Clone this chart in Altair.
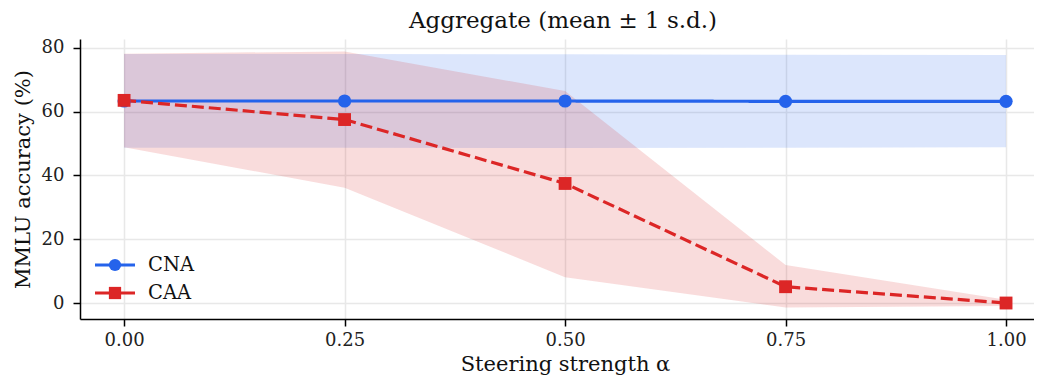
import altair as alt
import pandas as pd

alpha = [0.0, 0.25, 0.5, 0.75, 1.0]
series_names = ["CNA", "CAA"]
cna_mean = [63.3, 63.3, 63.3, 63.2, 63.2]
cna_lo = [48.7, 48.7, 48.6, 48.7, 48.8]
cna_hi = [78.0, 78.0, 77.9, 77.8, 77.7]
caa_mean = [63.5, 57.5, 37.5, 5.2, 0.1]
caa_lo = [48.8, 36.2, 8.2, -1.3, -0.8]
caa_hi = [78.1, 78.8, 66.4, 12.0, 1.1]
x_ticks = [0.0, 0.25, 0.5, 0.75, 1.0]
y_ticks = [0, 20, 40, 60, 80]

colors = ["#2563eb", "#dc2626"]
FONT = "DejaVu Serif"

df = pd.concat([
    pd.DataFrame({"series": "CNA", "alpha": alpha, "mean": cna_mean, "lo": cna_lo, "hi": cna_hi}),
    pd.DataFrame({"series": "CAA", "alpha": alpha, "mean": caa_mean, "lo": caa_lo, "hi": caa_hi}),
], ignore_index=True)

xs = alt.Scale(domain=[-0.05, 1.0317], nice=False, zero=False)
ys = alt.Scale(domain=[-4.9, 82.7], nice=False, zero=False)
cs = alt.Scale(domain=series_names, range=colors)

X = alt.X("alpha:Q", scale=xs, title="Steering strength α",
          axis=alt.Axis(values=x_ticks, format=".2f", titleX=485))
Y = alt.Y("mean:Q", scale=ys, title="MMLU accuracy (%)",
          axis=alt.Axis(values=y_ticks))

base = alt.Chart(df)

bands = base.mark_area(opacity=0.16).encode(
    x=X,
    y=alt.Y("lo:Q", scale=ys, stack=None, title="MMLU accuracy (%)", axis=alt.Axis(values=y_ticks)),
    y2="hi:Q",
    color=alt.Color("series:N", scale=cs, legend=None),
    detail="series:N",
)

lines = base.mark_line(strokeWidth=3.2).encode(
    x=X, y=Y,
    color=alt.Color("series:N", scale=cs, legend=None),
    strokeDash=alt.StrokeDash("series:N", scale=alt.Scale(domain=series_names, range=[[1, 0], [12, 5]]), legend=None),
)

points = base.mark_point(filled=True, opacity=1).encode(
    x=X, y=Y,
    color=alt.Color("series:N", scale=cs, legend=None),
    shape=alt.Shape("series:N", scale=alt.Scale(domain=series_names, range=["circle", "square"]), legend=None),
    size=alt.Size("series:N", scale=alt.Scale(domain=series_names, range=[175, 165]), legend=None),
)

legend_layers = []
for name, col, shp, sz, yy in [("CNA", colors[0], "circle", 150, 226), ("CAA", colors[1], "square", 150, 254)]:
    ldf = pd.DataFrame({"label": [name]})
    lc = alt.Chart(ldf)
    legend_layers.append(lc.mark_rule(strokeWidth=3.2, color=col).encode(
        x=alt.value(15), x2=alt.value(55), y=alt.value(yy)))
    legend_layers.append(lc.mark_point(filled=True, opacity=1, size=sz, shape=shp, color=col).encode(
        x=alt.value(35), y=alt.value(yy)))
    legend_layers.append(lc.mark_text(align="left", baseline="middle", font=FONT, fontSize=19.5, color="#111").encode(
        x=alt.value(68), y=alt.value(yy), text="label:N"))

chart = alt.layer(bands, lines, points, *legend_layers).properties(
    width=954, height=280,
    autosize=alt.AutoSizeParams(type="none"),
    padding={"left": 72, "top": 31, "right": 0, "bottom": 59},
    title=alt.TitleParams("Aggregate (mean ± 1 s.d.)", font=FONT, fontSize=23,
                          fontWeight="normal", anchor="middle", offset=6, color="#111", dx=6),
).configure_view(stroke=None).configure_axis(
    labelFont=FONT, titleFont=FONT, labelFontSize=18, titleFontSize=21,
    titleFontWeight="normal", labelColor="#222", titleColor="#111",
    domainColor="#000", domainWidth=1.5, tickColor="#000", tickWidth=1.5, tickSize=7,
    gridColor="#e8e8e8", gridWidth=1.5,
).configure_axisX(titlePadding=4, labelPadding=5).configure_axisY(titlePadding=8, labelPadding=9)

chart.save("out.html", embed_options={"renderer": "svg", "actions": False})
